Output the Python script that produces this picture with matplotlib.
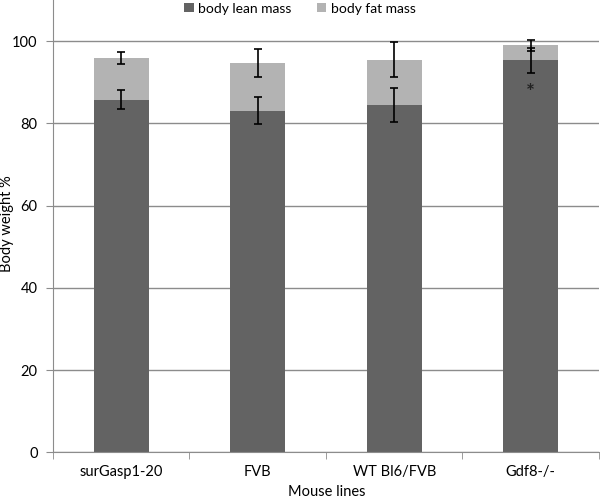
import matplotlib.pyplot as plt
import numpy as np

# data
lines = ['surGasp1-20', 'FVB', 'WT Bl6/FVB', 'Gdf8-/-']
lean = [85.8, 83.1, 84.4, 95.3]
fat = [10.1, 11.6, 11.1, 3.65]
lean_err = [2.3, 3.3, 4.1, 3.0]
fat_err = [1.5, 3.3, 4.2, 1.4]
star_at = [None, None, None, 88.7]

plt.rcParams['font.family'] = ['Lato', 'DejaVu Sans']

fig = plt.figure(figsize=(6, 4.98), dpi=100)
ax = fig.add_axes([0.0883, 0.0914, 0.91, 0.9086])

x = np.arange(len(lines))
w = 0.4
lean_col, fat_col = '#636363', '#b3b3b3'
grid_col = '#8c8c8c'

ax.bar(x, lean, w, color=lean_col, label='body lean mass', zorder=2)
ax.bar(x, fat, w, bottom=lean, color=fat_col, label='body fat mass', zorder=2)
tops = np.array(lean) + np.array(fat)
ax.errorbar(x, lean, yerr=lean_err, fmt='none', ecolor='black',
            elinewidth=1.2, capsize=3, capthick=1.2, zorder=3)
ax.errorbar(x, tops, yerr=fat_err, fmt='none', ecolor='black',
            elinewidth=1.2, capsize=3, capthick=1.2, zorder=3)
for i, s in enumerate(star_at):
    if s is not None:
        ax.text(x[i], s - 1.2, '*', ha='center', va='center', fontsize=15,
                fontweight='bold', color='#222222', zorder=4)

ax.set_xlim(-0.5, len(lines) - 0.5)
ax.set_ylim(0, 110)
ax.set_yticks(range(0, 101, 20))
ax.set_xticks(x)
ax.set_xticklabels(lines, fontsize=10.5)
ax.set_xticks(np.arange(-0.5, len(lines), 1), minor=True)
ax.tick_params(axis='x', which='major', length=0, pad=9)
ax.tick_params(axis='x', which='minor', length=5, color=grid_col)
ax.tick_params(axis='y', length=5, color=grid_col, labelsize=10.5, pad=6)
ax.yaxis.grid(True, color=grid_col, linewidth=1, zorder=0)
ax.set_axisbelow(True)
for side in ['top', 'right']:
    ax.spines[side].set_visible(False)
for side in ['left', 'bottom']:
    ax.spines[side].set_color(grid_col)

fig.text(7 / 600, 1 - 224 / 498, 'Body weight %', rotation=90,
         ha='center', va='center', fontsize=10.5)
fig.text(0.545, 6 / 498, 'Mouse lines', ha='center', va='center',
         fontsize=10.5)

fig.legend(loc='upper center', bbox_to_anchor=(0.5, 1.02), ncol=2,
           frameon=False, fontsize=10, handlelength=0.65, handleheight=0.65,
           handletextpad=0.35, columnspacing=1.8)

fig.savefig('out.png', dpi=100)
